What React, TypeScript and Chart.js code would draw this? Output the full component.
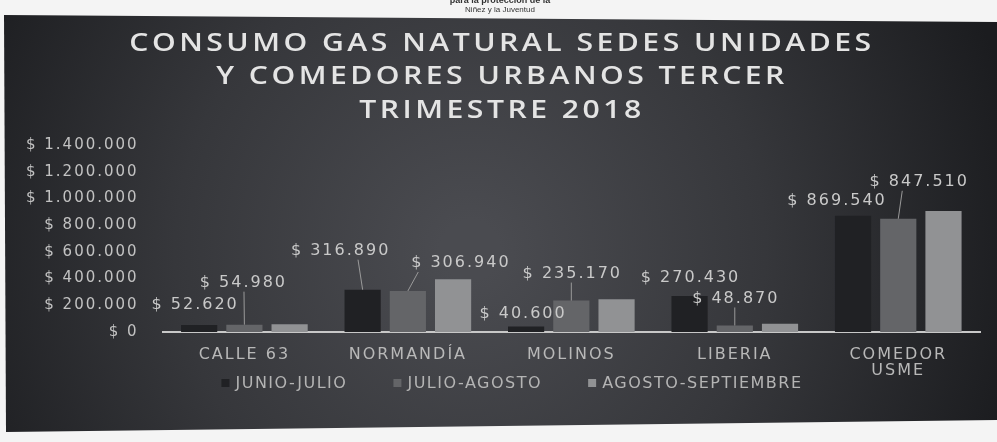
import React, { useEffect, useRef } from "react";
import { Chart, registerables } from "chart.js";

Chart.register(...registerables);

const TITLE_LINES = ["CONSUMO GAS NATURAL SEDES UNIDADES", "Y COMEDORES URBANOS TERCER", "TRIMESTRE 2018"];
const CATEGORIES: (string | string[])[] = ["CALLE 63", "NORMANDÍA", "MOLINOS", "LIBERIA", ["COMEDOR", "USME"]];
const SERIES_NAMES = ["JUNIO-JULIO", "JULIO-AGOSTO", "AGOSTO-SEPTIEMBRE"];
const JUNIO_JULIO = [52620, 316890, 40600, 270430, 869540];
const JULIO_AGOSTO = [54980, 306940, 235170, 48870, 847510];
const AGOSTO_SEPTIEMBRE = [58000, 395000, 245000, 62000, 905000];
const Y_MAX = 1400000;
const Y_STEP = 200000;
const HEADER_LINES = ["para la protección de la", "Niñez y la Juventud"];

const fmt = (v: number) => "$ " + String(Math.round(v)).replace(/\B(?=(\d{3})+(?!\d))/g, ".");

// label placement (dx, dy) relative to bar top centre, per labelled series
const LABEL_OFFSETS: Record<number, [number, number][]> = {
  0: [[-5, -20], [-23, -39], [-4, -13], [0, -18], [-17, -15]],
  1: [[-2, -42], [52, -28], [0, -27], [0, -27], [20, -37]],
};

const FONT = "'DejaVu Sans', sans-serif";
const SPACING = "2px";

const setSpacing = (chart: any) => {
  try { chart.ctx.letterSpacing = SPACING; } catch (e) {}
};

const backgroundPlugin = {
  id: "photoBackground",
  beforeUpdate: setSpacing,
  beforeLayout: setSpacing,
  beforeDraw(chart: any) {
    setSpacing(chart);
    const { ctx, width, height } = chart;
    ctx.save();
    ctx.fillStyle = "#f4f4f4";
    ctx.fillRect(0, 0, width, height);
    ctx.beginPath();
    ctx.moveTo(4, 15);
    ctx.lineTo(width, 22);
    ctx.lineTo(width, 420);
    ctx.lineTo(6, 432);
    ctx.closePath();
    const g = ctx.createRadialGradient(470, 250, 30, 470, 250, 560);
    g.addColorStop(0, "#4a4b50");
    g.addColorStop(0.5, "#36373b");
    g.addColorStop(1, "#1b1c1f");
    ctx.fillStyle = g;
    ctx.fill();
    // header text on paper
    ctx.letterSpacing = "0px";
    ctx.fillStyle = "#333";
    ctx.textAlign = "center";
    ctx.textBaseline = "alphabetic";
    ctx.font = "bold 9px 'Liberation Sans', Arial, sans-serif";
    ctx.fillText(HEADER_LINES[0], 500, 3);
    ctx.font = "8px 'Liberation Sans', Arial, sans-serif";
    ctx.fillText(HEADER_LINES[1], 500, 12);
    ctx.restore();
  },
  afterDraw(chart: any) {
    const { ctx } = chart;
    // title
    ctx.save();
    ctx.fillStyle = "#e4e4e4";
    ctx.textAlign = "center";
    ctx.textBaseline = "alphabetic";
    ctx.font = "600 26px 'Open Sans', sans-serif";
    ctx.letterSpacing = "3px";
    const ys = [51, 84, 118];
    TITLE_LINES.forEach((t, i) => {
      ctx.save();
      ctx.translate(502, ys[i]);
      ctx.scale(1.16, 1);
      ctx.fillText(t, 0, 0);
      ctx.restore();
    });
    ctx.restore();
    // legend
    ctx.save();
    ctx.font = "16px " + FONT;
    ctx.letterSpacing = "1.5px";
    ctx.textBaseline = "middle";
    ctx.textAlign = "left";
    const box = 8, gapBox = 6, gapItem = 46, cy = 383;
    const widths = chart.data.datasets.map((d: any) => box + gapBox + ctx.measureText(d.label).width);
    const total = widths.reduce((a: number, b: number) => a + b, 0) + gapItem * (widths.length - 1);
    let x = 512 - total / 2;
    chart.data.datasets.forEach((d: any, i: number) => {
      ctx.fillStyle = d.backgroundColor;
      ctx.fillRect(x, cy - box / 2, box, box);
      ctx.fillStyle = "#b4b4b4";
      ctx.fillText(d.label, x + box + gapBox, cy + 1);
      x += widths[i] + gapItem;
    });
    ctx.restore();
  },
};

const labelPlugin = {
  id: "barLabels",
  afterDatasetsDraw(chart: any) {
    const { ctx } = chart;
    ctx.save();
    ctx.font = "16px " + FONT;
    ctx.letterSpacing = "2px";
    ctx.fillStyle = "#c9c9c9";
    ctx.textAlign = "center";
    ctx.textBaseline = "middle";
    Object.keys(LABEL_OFFSETS).forEach((k) => {
      const di = Number(k);
      const meta = chart.getDatasetMeta(di);
      const data = chart.data.datasets[di].data as number[];
      meta.data.forEach((bar: any, i: number) => {
        const [dx, dy] = LABEL_OFFSETS[di][i];
        const lx = bar.x + dx;
        const ly = bar.y + dy;
        if (dy < -24) {
          ctx.strokeStyle = "#9a9a9a";
          ctx.lineWidth = 1;
          ctx.beginPath();
          ctx.moveTo(lx - dx * 0.8, ly + 9);
          ctx.lineTo(bar.x, bar.y);
          ctx.stroke();
        }
        ctx.fillText(fmt(data[i]), lx + 1, ly);
      });
    });
    ctx.restore();
  },
};

export default function App() {
  const ref = useRef<HTMLCanvasElement | null>(null);
  useEffect(() => {
    document.body.style.margin = "0";
    const canvas = ref.current!;
    const chart = new Chart(canvas, {
      type: "bar",
      data: {
        labels: CATEGORIES as any,
        datasets: [
          { label: SERIES_NAMES[0], data: JUNIO_JULIO, backgroundColor: "#202124" },
          { label: SERIES_NAMES[1], data: JULIO_AGOSTO, backgroundColor: "#646568" },
          { label: SERIES_NAMES[2], data: AGOSTO_SEPTIEMBRE, backgroundColor: "#919294" },
        ],
      },
      options: {
        responsive: false,
        animation: false,
        devicePixelRatio: 1,
        layout: { padding: { left: 10, right: 17, top: 145, bottom: 56 } },
        datasets: { bar: { categoryPercentage: 0.83, barPercentage: 0.8 } },
        plugins: {
          title: { display: false },
          tooltip: { enabled: false },
          legend: { display: false },
        },
        scales: {
          x: {
            grid: { display: false },
            border: { display: true, color: "#c8c8c8", width: 2 },
            ticks: {
              color: "#b8b8b8",
              font: { family: FONT, size: 16, lineHeight: 1.0 },
              padding: 7,
              maxRotation: 0,
            },
          },
          y: {
            min: 0,
            max: Y_MAX,
            grid: { display: false },
            border: { display: false },
            ticks: {
              stepSize: Y_STEP,
              autoSkip: false,
              color: "#c2c2c2",
              font: { family: FONT, size: 15 },
              padding: 16,
              callback: (v: any) => fmt(Number(v)),
            },
          },
        },
      },
      plugins: [backgroundPlugin, labelPlugin],
    });
    return () => chart.destroy();
  }, []);
  return (
    <div style={{ width: 997, height: 442 }}>
      <canvas ref={ref} width={997} height={442} style={{ display: "block" }} />
    </div>
  );
}
